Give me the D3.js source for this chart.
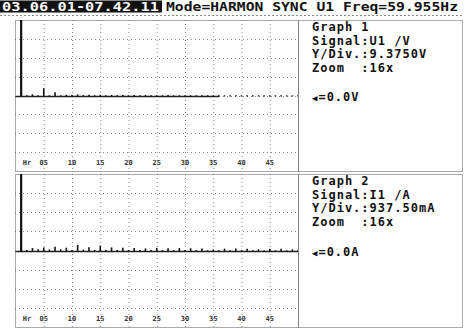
<!DOCTYPE html>
<html>
<head>
<meta charset="utf-8">
<script src="https://cdn.jsdelivr.net/npm/d3@7/dist/d3.min.js"></script>
<style>
  body { margin: 0; background: #fff; }
  text { font-family: "DejaVu Sans Mono", monospace; font-weight: bold; fill: #111; white-space: pre; }
  .grid { stroke: #888; stroke-width: 1; stroke-dasharray: 1,3; }
  .frame { fill: none; stroke: #555; stroke-width: 1; stroke-dasharray: 1,1; }
  .tick { font-size: 7px; fill: #333; }
  .info { font-size: 12px; letter-spacing: 1px; }
</style>
</head>
<body>
<svg id="chart" width="465" height="329"></svg>
<script>
// harmonic orders shown on the x axis
const harmonics = d3.range(1, 51);
const hrTicks = [5, 10, 15, 20, 25, 30, 35, 40, 45];
const hrLabels = ['05', '10', '15', '20', '25', '30', '35', '40', '45'];

// graph 1: U1 harmonic amplitudes in volts (fundamental is off scale at 16x zoom)
const u1Volts = [120, 0.1, 0.6, 0.1, 3.6, 0.1, 1.6, 0.1, 0.3, 0.2,
  0.5, 0.2, 0.4, 0.1, 0.3, 0.1, 0.3, 0.1, 0.2, 0.1,
  0.2, 0.1, 0.2, 0.1, 0.1, 0.1, 0.2, 0.1, 0.1, 0.1,
  0.1, 0.1, 0.1, 0.1, 0.1, 0.1, 0.1, 0.1, 0.1, 0.1,
  0.1, 0.1, 0.1, 0.1, 0.1, 0.1, 0.1, 0.1, 0.1, 0.1];

// graph 2: I1 harmonic amplitudes in amps
const i1Amps = [12, 0.02, 0.12, 0.06, 0.15, 0.05, 0.18, 0.06, 0.14, 0.03,
  0.28, 0.04, 0.16, 0.03, 0.24, 0.03, 0.15, 0.02, 0.14, 0.02,
  0.12, 0.02, 0.10, 0.02, 0.13, 0.02, 0.11, 0.02, 0.12, 0.02,
  0.11, 0.02, 0.10, 0.01, 0.05, 0.01, 0.09, 0.01, 0.10, 0.01,
  0.09, 0.01, 0.06, 0.01, 0.08, 0.01, 0.08, 0.01, 0.05, 0.01];

const titleStamp = '03.06.01-07.42.11';
const titleMode = 'Mode=HARMON SYNC U1 Freq=59.955Hz';

const graphs = [
  { name: 'Graph 1', signal: 'Signal:U1 /V', ydivText: 'Y/Div.:9.3750V', zoom: 'Zoom  :16x',
    cursor: '=0.0V', ydiv: 9.375, values: u1Volts, traceEnd: 36, top: 20, bottom: 171 },
  { name: 'Graph 2', signal: 'Signal:I1 /A', ydivText: 'Y/Div.:937.50mA', zoom: 'Zoom  :16x',
    cursor: '=0.0A', ydiv: 0.9375, values: i1Amps, traceEnd: 50, top: 174, bottom: 327 }
];

const svg = d3.select('#chart');
const plotLeft = 15, plotRight = 298, infoRight = 462;

const x = d3.scaleLinear().domain([0, 50]).range([15.5, 298]);

// title bar
svg.append('rect').attr('x', 0).attr('y', 0.5).attr('width', 162).attr('height', 12).attr('fill', '#111');
svg.append('text').attr('x', 2).attr('y', 10.5).attr('font-size', 12)
  .attr('textLength', 157).attr('lengthAdjust', 'spacingAndGlyphs')
  .style('fill', '#fff').text(titleStamp);
svg.append('text').attr('x', 166).attr('y', 10.5).attr('font-size', 12)
  .attr('textLength', 292).attr('lengthAdjust', 'spacingAndGlyphs')
  .text(titleMode);
svg.append('line').attr('x1', 0).attr('x2', infoRight).attr('y1', 15.5).attr('y2', 15.5)
  .attr('stroke', '#888').attr('stroke-dasharray', '2,2');

graphs.forEach((g, gi) => {
  const y = d3.scaleLinear().domain([-4 * g.ydiv, 4 * g.ydiv]).range([g.bottom, g.top]);
  const layer = svg.append('g');

  const clipId = 'clip' + gi;
  svg.append('clipPath').attr('id', clipId).append('rect')
    .attr('x', plotLeft).attr('y', g.top).attr('width', plotRight - plotLeft).attr('height', g.bottom - g.top);

  // grid
  layer.selectAll('.vg').data(hrTicks).enter().append('line')
    .attr('class', 'grid')
    .attr('x1', d => x(d) + 0.5).attr('x2', d => x(d) + 0.5)
    .attr('y1', g.top).attr('y2', g.bottom);
  layer.selectAll('.hg').data(d3.range(-3, 4)).enter().append('line')
    .attr('class', 'grid')
    .attr('x1', plotLeft).attr('x2', plotRight)
    .attr('y1', d => Math.round(y(d * g.ydiv)) + 0.5).attr('y2', d => Math.round(y(d * g.ydiv)) + 0.5);

  // frames
  layer.append('rect').attr('class', 'frame')
    .attr('x', plotLeft + 0.5).attr('y', g.top + 0.5)
    .attr('width', plotRight - plotLeft).attr('height', g.bottom - g.top);
  layer.append('rect').attr('class', 'frame')
    .attr('x', plotRight + 0.5).attr('y', g.top + 0.5)
    .attr('width', infoRight - plotRight).attr('height', g.bottom - g.top);

  // baseline trace
  const y0 = Math.round(y(0)) + 0.5;
  layer.append('line')
    .attr('x1', x(0)).attr('x2', x(g.traceEnd)).attr('y1', y0).attr('y2', y0)
    .attr('stroke', '#222').attr('stroke-width', 1.5);

  // harmonic spikes
  layer.append('g').attr('clip-path', `url(#${clipId})`)
    .selectAll('line').data(harmonics).enter().append('line')
    .attr('x1', d => x(d)).attr('x2', d => x(d))
    .attr('y1', y0).attr('y2', (d, i) => y(g.values[i]))
    .attr('stroke', '#111')
    .attr('stroke-width', d => d === 1 ? 2.2 : 1.6);

  // x labels
  const ly = g.bottom - 6;
  layer.append('text').attr('class', 'tick').attr('x', x(1.3)).attr('y', ly).text('Hr');
  layer.selectAll('.xl').data(hrTicks).enter().append('text')
    .attr('class', 'tick').attr('text-anchor', 'middle')
    .attr('x', d => x(d)).attr('y', ly)
    .text((d, i) => hrLabels[i]);

  // info panel
  const tx = 312;
  [g.name, g.signal, g.ydivText, g.zoom].forEach((t, i) => {
    layer.append('text').attr('class', 'info').attr('x', tx)
      .attr('y', g.top + 11 + i * 13.5).text(t);
  });
  const cur = layer.append('text').attr('class', 'info').attr('x', tx).attr('y', y0 + 4);
  cur.append('tspan').attr('font-size', 9).text('\u25C0');
  cur.append('tspan').text(g.cursor);
});
</script>
</body>
</html>
